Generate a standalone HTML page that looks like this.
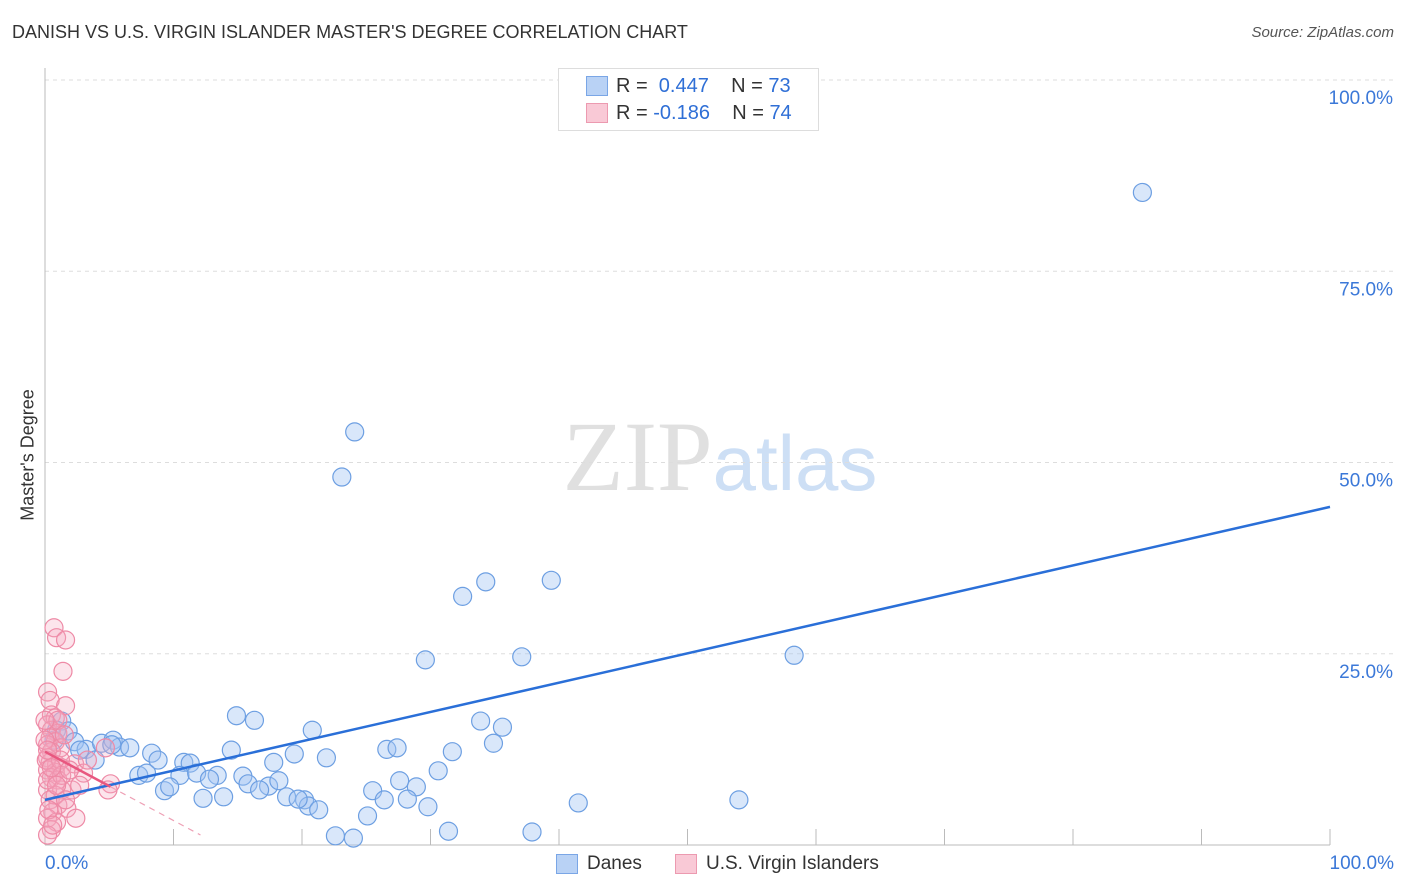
<!DOCTYPE html>
<html><head><meta charset="utf-8"><style>
body{margin:0;background:#fff;font-family:"Liberation Sans",sans-serif}
#wrap{position:relative;width:1406px;height:892px;overflow:hidden}
.t{position:absolute;white-space:nowrap}
</style></head><body>
<div id="wrap">
<div class="t" style="left:12px;top:22px;font-size:18px;color:#333">DANISH VS U.S. VIRGIN ISLANDER MASTER'S DEGREE CORRELATION CHART</div>
<div class="t" style="right:12px;top:24px;font-size:15px;color:#555;font-style:italic">Source: ZipAtlas.com</div>
<svg id="svg" width="1406" height="892" style="position:absolute;left:0;top:0">
<text x="720" y="490" text-anchor="middle" font-family="Liberation Serif" font-size="100" fill="#e0e0e0">ZIP<tspan font-family="Liberation Sans" fill="#cddff5" font-size="78">atlas</tspan></text>
</svg>
<div class="t" style="left:18px;top:455px;transform:translate(-50%,-50%) rotate(-90deg);transform-origin:center;font-size:18px;color:#333;margin-left:10px">Master's Degree</div>
<div style="position:absolute;left:558px;top:68px;width:259px;height:61px;border:1px solid #ddd;background:#fff">
 <div style="position:absolute;left:27px;top:7px;width:20px;height:18px;background:#b9d2f5;border:1px solid #7aa6e6"></div>
 <div class="t" style="left:57px;top:6px;font-size:20px;color:#333">R = &nbsp;<span style="color:#2f6fd6">0.447</span>&nbsp;&nbsp;&nbsp; N = <span style="color:#2f6fd6">73</span></div>
 <div style="position:absolute;left:27px;top:34px;width:20px;height:18px;background:#f9c9d6;border:1px solid #ec9ab0"></div>
 <div class="t" style="left:57px;top:33px;font-size:20px;color:#333">R = <span style="color:#2f6fd6">-0.186</span>&nbsp;&nbsp;&nbsp; N = <span style="color:#2f6fd6">74</span></div>
</div>
<div style="position:absolute;left:556px;top:854px;width:20px;height:18px;background:#b9d2f5;border:1px solid #7aa6e6"></div>
<div class="t" style="left:587px;top:853px;font-size:19px;color:#333">Danes</div>
<div style="position:absolute;left:675px;top:854px;width:20px;height:18px;background:#f9c9d6;border:1px solid #ec9ab0"></div>
<div class="t" style="left:706px;top:853px;font-size:19px;color:#333">U.S. Virgin Islanders</div>
<div class="t" style="left:45px;top:853px;font-size:19px;color:#3b78d8">0.0%</div>
<div class="t" style="right:12px;top:853px;font-size:19px;color:#3b78d8">100.0%</div>
</div>
<script>
const blueX=[85.4,24.1,23.1,32.5,34.3,39.4,29.6,37.1,58.3,14.9,16.3,20.8,33.9,35.6,34.9,26.6,27.4,31.7,21.9,19.4,17.8,14.5,30.6,27.6,28.9,25.5,26.4,28.2,29.8,41.5,54.0,20.2,20.5,21.3,25.1,22.6,24.0,31.4,37.9,1.3,0.9,1.8,2.3,3.2,2.7,4.4,5.3,5.8,6.6,5.2,8.3,8.8,10.8,11.3,3.9,7.3,7.9,10.5,11.8,13.4,12.8,15.4,15.8,17.4,18.2,9.3,9.7,12.3,13.9,16.7,18.8,19.7,0.7];
const blueY=[85.3,54.0,48.1,32.5,34.4,34.6,24.2,24.6,24.8,16.9,16.3,15.0,16.2,15.4,13.3,12.5,12.7,12.2,11.4,11.9,10.8,12.4,9.7,8.4,7.6,7.1,5.9,6.0,5.0,5.5,5.9,5.9,5.1,4.6,3.8,1.2,0.9,1.8,1.7,16.2,15.0,14.9,13.5,12.5,12.4,13.3,13.7,12.8,12.7,13.1,12.0,11.1,10.8,10.7,11.1,9.1,9.4,9.1,9.4,9.1,8.6,9.0,8.0,7.7,8.4,7.1,7.6,6.1,6.3,7.2,6.3,6.0,13.7];
const pinkX=[0.7,0.9,1.6,1.4,0.2,0.4,1.6,0.5,0.8,0.2,0.5,1.0,0.4,0.8,0.2,1.2,0.5,0.2,0.4,0.9,1.3,0.2,0.8,0.5,1.0,2.3,3.0,4.7,5.1,4.9,0.2,0.8,1.3,0.4,1.0,1.7,0.6,0.2,2.4,0.9,0.5,0.2,3.3,2.1,2.7,1.6,0,0.1,0.2,0.3,0.6,1.2,1.3,1.9,1.0,1.5,0,0.2,0.5,0.9];
const pinkY=[28.4,27.1,26.8,22.7,20.0,18.9,18.2,17.0,16.6,15.7,15.0,14.6,14.0,13.5,13.1,12.7,12.2,11.4,10.8,10.5,10.1,9.8,9.5,8.8,8.5,10.6,9.4,12.7,8.0,7.2,7.2,6.5,7.2,5.9,5.2,4.8,4.3,3.5,3.5,3.0,2.0,1.3,11.1,7.2,7.8,5.9,13.7,11.1,8.5,4.6,2.6,11.1,9.1,9.8,16.3,14.4,16.3,12.4,10.1,7.8];
const blueTrend=[5.9,44.2];
const pinkTrend=[12.2,-0.9];
const yTicks=[25,50,75,100];
const yTickLabels=["25.0%","50.0%","75.0%","100.0%"];
const X0=45,X1=1330,Y0=845,Y1=80;
const sx=v=>X0+(X1-X0)*v/100, sy=v=>Y0-(Y0-Y1)*v/100;
const svg=document.getElementById('svg'),NS='http://www.w3.org/2000/svg';
function mk(t,a){const e=document.createElementNS(NS,t);for(const k in a)e.setAttribute(k,a[k]);svg.appendChild(e);return e;}
yTicks.forEach((v,i)=>{
 const g=mk('line',{x1:X0,x2:1395,y1:sy(v),y2:sy(v),stroke:'#ddd','stroke-dasharray':'4,4'});
 
 
 const t=mk('text',{x:1393,y:sy(v)+24,'text-anchor':'end','font-size':19,fill:'#3b78d8','font-family':'Liberation Sans'});
 t.textContent=yTickLabels[i];
 
 
});
const ax=mk('line',{x1:X0,x2:X0,y1:68,y2:Y0,stroke:'#bbb'});


const bx=mk('line',{x1:X0,x2:X1,y1:Y0,y2:Y0,stroke:'#bbb'});


for(let i=1;i<=10;i++){
 const tk=mk('line',{x1:sx(i*10),x2:sx(i*10),y1:Y0-16,y2:Y0,stroke:'#bbb'});
 
 
}
blueX.forEach((x,i)=>{
 const c=mk('circle',{cx:sx(x),cy:sy(blueY[i]),r:9,fill:'rgba(160,196,242,0.4)',stroke:'#6d9fe2','stroke-width':1.2});
 
 
});
pinkX.forEach((x,i)=>{
 const c=mk('circle',{cx:sx(x),cy:sy(pinkY[i]),r:9,fill:'rgba(246,170,192,0.3)',stroke:'#ee8aa6','stroke-width':1.2});
 
 
});
const bl=mk('line',{x1:sx(0),y1:sy(blueTrend[0]),x2:sx(100),y2:sy(blueTrend[1]),stroke:'#2a6fd8','stroke-width':2.5});


const pe=5.1,pd=12.1;
const pl=mk('line',{x1:sx(0),y1:sy(pinkTrend[0]),x2:sx(pe),y2:sy(pinkTrend[0]+pinkTrend[1]*pe),stroke:'#e8577f','stroke-width':2.5});


const pdl=mk('line',{x1:sx(pe),y1:sy(pinkTrend[0]+pinkTrend[1]*pe),x2:sx(pd),y2:sy(pinkTrend[0]+pinkTrend[1]*pd),stroke:'#eea0b5','stroke-width':1.2,'stroke-dasharray':'6,5'});


</script>
</body></html>
